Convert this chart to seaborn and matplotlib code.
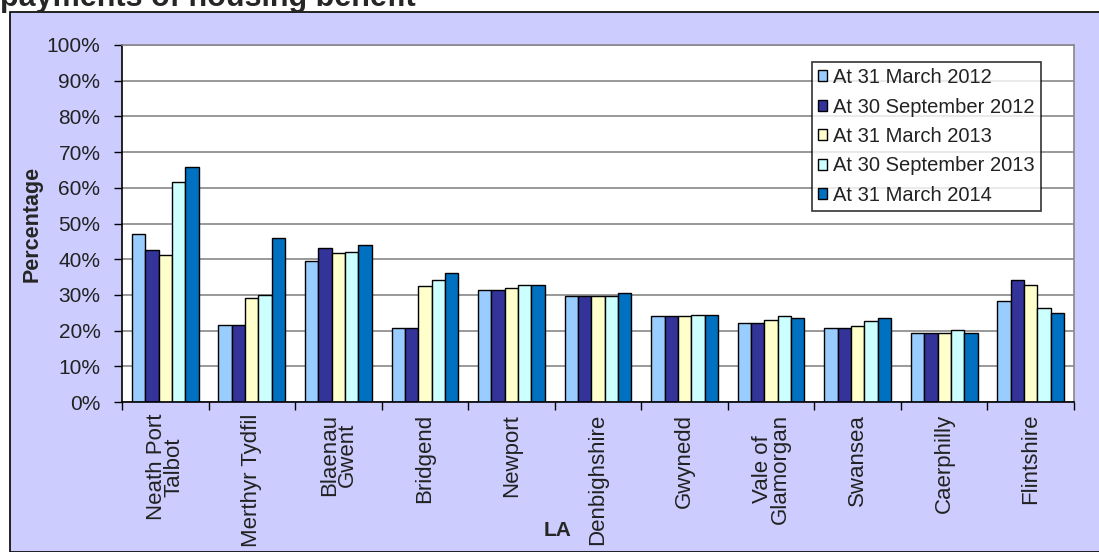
import pandas as pd
import numpy as np
import matplotlib
matplotlib.use('Agg')
import matplotlib.pyplot as plt
import seaborn as sns
from matplotlib.patches import Rectangle

# Data
las = ['Neath Port\nTalbot', 'Merthyr Tydfil', 'Blaenau\nGwent', 'Bridgend', 'Newport',
       'Denbighshire', 'Gwynedd', 'Vale of\nGlamorgan', 'Swansea', 'Caerphilly', 'Flintshire']
periods = ['At 31 March 2012', 'At 30 September 2012', 'At 31 March 2013',
           'At 30 September 2013', 'At 31 March 2014']
mar_2012 = [47.0, 21.7, 39.4, 20.7, 31.5, 29.6, 24.0, 22.1, 20.7, 19.3, 28.2]
sep_2012 = [42.7, 21.7, 43.0, 20.7, 31.5, 29.6, 24.0, 22.1, 20.7, 19.3, 34.3]
mar_2013 = [41.3, 29.2, 41.7, 32.4, 32.0, 29.6, 24.0, 23.1, 21.2, 19.3, 32.9]
sep_2013 = [61.7, 30.1, 42.1, 34.3, 32.9, 29.6, 24.5, 24.0, 22.6, 20.3, 26.4]
mar_2014 = [65.9, 45.8, 44.0, 36.2, 32.9, 30.6, 24.5, 23.6, 23.6, 19.3, 25.0]
colors = ['#99CCFF', '#333399', '#FFFFCC', '#CCFFFF', '#0070C0']

series = [mar_2012, sep_2012, mar_2013, sep_2013, mar_2014]
rows = []
for p, vals in zip(periods, series):
    for la, v in zip(las, vals):
        rows.append({'LA': la, 'Period': p, 'Percentage': v})
df = pd.DataFrame(rows)

sns.set_style('white')
plt.rcParams['font.family'] = ['Liberation Sans', 'DejaVu Sans']

fig = plt.figure(figsize=(10.99, 5.52), dpi=100)
fig.patch.set_facecolor('white')
# lavender chart area with black frame, behind the axes
bg = Rectangle((10 / 1099, 0), 1.0, 1 - 12 / 552, transform=fig.transFigure,
               facecolor='#CCCCFF', edgecolor='black', linewidth=1.2, zorder=-5)
fig.add_artist(bg)

ax = fig.add_axes([122 / 1099, 1 - 402 / 552, (1074 - 122) / 1099, (402 - 45) / 552])
ax.set_zorder(1)
sns.barplot(data=df, x='LA', y='Percentage', hue='Period', palette=colors, width=0.77,
            edgecolor='black', linewidth=1.0, saturation=1, ax=ax)

ax.set_facecolor('white')
ax.set_ylim(0, 100)
ax.set_xlim(-0.5, len(las) - 0.5)
ax.set_yticks(np.arange(0, 101, 10))
ax.set_yticklabels([f'{t}%' for t in range(0, 101, 10)], fontsize=15, color='#222222')
ax.yaxis.grid(True, color='#888888', linewidth=1.2)
ax.set_axisbelow(True)

ax.set_xticks(range(len(las)))
ax.set_xticklabels(las, rotation=90, fontsize=16, ha='center', va='top',
                   multialignment='center', linespacing=0.8, color='#222222')
ax.set_xticks(np.arange(-0.5, len(las), 1), minor=True)
ax.tick_params(axis='x', which='major', length=0, pad=8.5)
ax.tick_params(axis='x', which='minor', length=5.5, width=1, color='black', direction='out', bottom=True)
ax.tick_params(axis='y', length=6, width=1, color='black', direction='out', left=True, pad=9.5)

for s in ['left', 'bottom']:
    ax.spines[s].set_color('black')
    ax.spines[s].set_linewidth(1.2)
for s in ['top', 'right']:
    ax.spines[s].set_color('#888888')
    ax.spines[s].set_linewidth(1.2)

ax.set_ylabel('Percentage', fontsize=15.5, fontweight='bold')
ax.yaxis.set_label_coords(-(122 - 43) / (1074 - 122), 0.5)
ax.set_xlabel('LA', fontsize=15, fontweight='bold')
ax.xaxis.set_label_coords((558 - 122) / (1074 - 122), -(530 - 402) / (402 - 45))
ax.xaxis.label.set_va('center')

leg = ax.legend(loc='upper left', bbox_to_anchor=((812 - 122) / (1074 - 122), 1 - (62 - 45) / (402 - 45)),
                fontsize=14.5, frameon=True, fancybox=False, edgecolor='black', handlelength=0.45,
                handleheight=0.45, handletextpad=0.3, borderpad=0.3, labelspacing=0.52,
                borderaxespad=0)
leg.get_frame().set_linewidth(1.2)
for h in leg.legend_handles:
    h.set_linewidth(1.0)
for t in leg.get_texts():
    t.set_color('#222222')

# title sits mostly above the top edge, as in the source image
fig.text(0.0, 1 - 6 / 552, 'payments of housing benefit', fontsize=22, fontweight='bold',
         ha='left', va='baseline')

fig.savefig('out.png', dpi=100)
